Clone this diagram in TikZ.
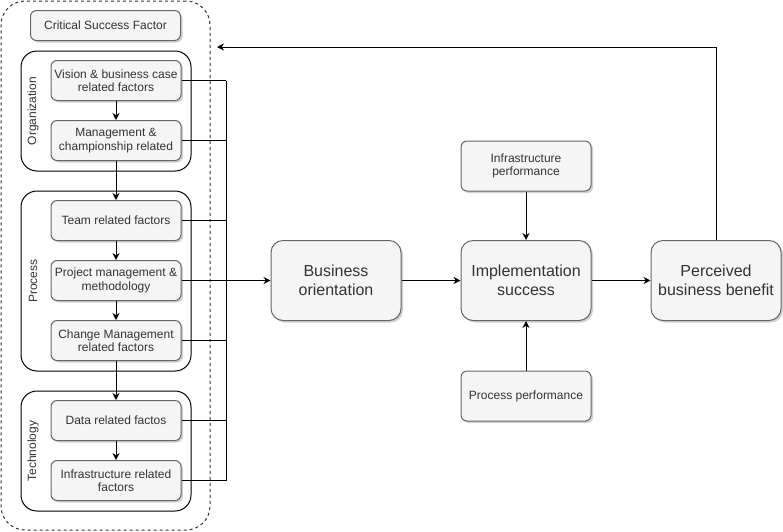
\documentclass[tikz,border=0pt]{standalone}
\usepackage{fontspec}
\setmainfont{Liberation Sans}
\usetikzlibrary{arrows.meta,shadows}
\definecolor{boxfill}{HTML}{F5F5F5}
\definecolor{boxline}{HTML}{666666}
\definecolor{boxtext}{HTML}{333333}

\begin{document}
\begin{tikzpicture}[x=1pt, y=-1pt, >={Stealth[length=7pt,width=7pt]}, line width=1pt,
  factor/.style={draw=boxline, fill=boxfill, text=boxtext, rounded corners=6pt,
    minimum width=130pt, minimum height=40pt, inner sep=0pt, align=center,
    font=\fontsize{12}{13.5}\selectfont,
    drop shadow={shadow xshift=2pt, shadow yshift=-2pt, fill=black, opacity=0.18}},
  stage/.style={factor, rounded corners=12pt, minimum height=80pt,
    font=\fontsize{16}{18.5}\selectfont},
  group/.style={draw=black, fill=white, rounded corners=16pt, minimum width=170pt, inner sep=0pt},
  grouplabel/.style={rotate=90, font=\fontsize{12}{14}\selectfont, text=boxtext}]

\useasboundingbox (0,0) rectangle (783,531);

% ---------- CSF column ----------
\node[draw=boxtext, dash pattern=on 3pt off 3pt, rounded corners=24pt,
  minimum width=209pt, minimum height=529pt, inner sep=0pt] (csfgroup) at (105.5,265.5) {};
\node[factor, minimum width=150pt, minimum height=30pt] (csf) at (105.5,25.5) {Critical Success Factor};

\node[group, minimum height=120pt] (orggroup) at (106,111) {};
\node[group, minimum height=180pt] (procgroup) at (106,281) {};
\node[group, minimum height=120pt] (techgroup) at (106,451) {};
\node[grouplabel] (orglabel) at (33,111) {Organization};
\node[grouplabel] (proclabel) at (33,281) {Process};
\node[grouplabel] (techlabel) at (33,451) {Technology};

\node[factor] (vision) at (116,80.5) {Vision \& business case\\related factors};
\node[factor] (mgmt) at (116,140.5) {Management \&\\championship related};
\node[factor] (team) at (116,220.5) {Team related factors};
\node[factor] (pm) at (116,280.5) {Project management \&\\methodology};
\node[factor] (change) at (116,340.5) {Change Management\\related factors};
\node[factor] (data) at (116,420.5) {Data related factos};
\node[factor] (infrarel) at (116,480.5) {Infrastructure related\\factors};

\draw[->] (vision) -- (mgmt);
\draw[->] (mgmt) -- (team);
\draw[->] (team) -- (pm);
\draw[->] (pm) -- (change);
\draw[->] (change) -- (data);
\draw[->] (data) -- (infrarel);

% ---------- bus to business orientation ----------
\coordinate (bus) at (226,80.5);
\draw (vision.east) -- (vision.east -| bus);
\draw (mgmt.east) -- (mgmt.east -| bus);
\draw (team.east) -- (team.east -| bus);
\draw (change.east) -- (change.east -| bus);
\draw (data.east) -- (data.east -| bus);
\draw (infrarel.east) -- (infrarel.east -| bus);
\draw (vision.east -| bus) -- (infrarel.east -| bus);

% ---------- stages ----------
\node[stage] (business) at (336,280.5) {Business\\orientation};
\node[stage] (impl) at (526,280.5) {Implementation\\success};
\node[stage] (perceived) at (716,280.5) {Perceived\\business benefit};
\node[factor, minimum height=50pt] (infraperf) at (526,166) {Infrastructure\\performance};
\node[factor, minimum height=50pt] (procperf) at (526,396) {Process performance};

\draw[->] (pm.east) -- (business.west);
\draw[->] (business) -- (impl);
\draw[->] (impl) -- (perceived);
\draw[->] (infraperf) -- (impl);
\draw[->] (procperf) -- (impl);

\coordinate (back) at (217,47);
\draw[->] (perceived.north) |- (back);

\end{tikzpicture}
\end{document}
